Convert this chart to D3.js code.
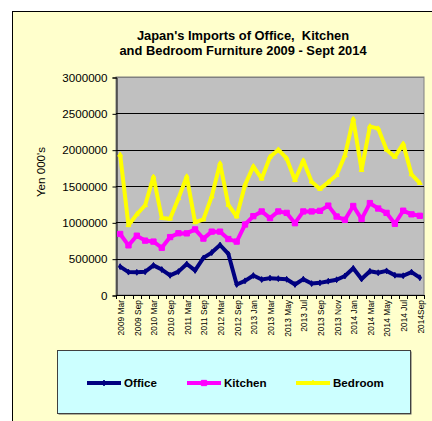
<!DOCTYPE html>
<html><head><meta charset="utf-8">
<script src="https://cdn.jsdelivr.net/npm/d3@7"></script>
<style>html,body{margin:0;padding:0;background:#fff;overflow:hidden}svg{display:block}</style>
</head><body>
<script>
const categories = ["2009 Mar","2009 Jun","2009 Sep","2009 Dec","2010 Mar","2010 Jun","2010 Sep","2010 Dec",
 "2011 Mar","2011 Jun","2011 Sep","2011 Dec","2012 Mar","2012 Jun","2012 Sep","2012 Dec",
 "2013 Jan","2013 Feb","2013 Mar","2013 Apr","2013 May","2013 Jun","2013 Jul","2013 Aug","2013 Sep","2013 Oct","2013 Nov","2013 Dec",
 "2014 Jan","2014 Feb","2014 Mar","2014 Apr","2014 May","2014 Jun","2014 Jul","2014 Aug","2014Sep"];
const office = [390000,315000,312000,320000,408000,350000,270000,322000,427000,338000,510000,584000,688000,565000,145000,195000,
 268000,213000,232000,225000,216000,145000,218000,157000,167000,190000,210000,262000,368000,220000,326000,306000,332000,272000,265000,315000,238000];
const kitchen = [840000,683000,816000,748000,735000,650000,797000,850000,848000,903000,776000,872000,872000,770000,735000,970000,
 1085000,1150000,1058000,1150000,1130000,988000,1150000,1150000,1158000,1230000,1080000,1035000,1225000,1045000,1265000,1190000,1130000,980000,1160000,1110000,1090000];
const bedroom = [1930000,960000,1110000,1235000,1625000,1060000,1050000,1330000,1630000,1000000,1040000,1355000,1810000,1240000,1080000,1515000,
 1770000,1600000,1900000,2000000,1880000,1580000,1850000,1560000,1460000,1550000,1650000,1920000,2420000,1720000,2320000,2290000,2000000,1900000,2080000,1660000,1540000];
const yTicks = [0,500000,1000000,1500000,2000000,2500000,3000000];
const seriesNames = ["Office","Kitchen","Bedroom"];
const seriesColors = ["#000080","#FF00FF","#FFFF00"];
const titleLines = ["Japan's Imports of Office,  Kitchen","and Bedroom Furniture 2009 - Sept 2014"];
const yTitle = "Yen 000's";

const W = 432, H = 421;
const FONT = "'Liberation Sans', Arial, sans-serif";
const svg = d3.select("body").append("svg").attr("width", W).attr("height", H);

// chart area
svg.append("rect").attr("x", 12.5).attr("y", 11.5).attr("width", 440).attr("height", 440)
  .attr("fill", "#FFFFCC").attr("stroke", "#000").attr("stroke-width", 1);

const plot = {l:116, r:424, t:77, b:295};
const x = d3.scaleBand().domain(categories).range([plot.l, plot.r]).paddingInner(0).paddingOuter(0);
const y = d3.scaleLinear().domain([0, 3000000]).range([plot.b, plot.t]);
const cx = c => x(c) + x.bandwidth()/2;

// plot area
svg.append("rect").attr("x", plot.l).attr("y", plot.t).attr("width", plot.r-plot.l).attr("height", plot.b-plot.t)
  .attr("fill", "#C0C0C0").attr("stroke", "#808080").attr("stroke-width", 1);

// gridlines
svg.append("g").selectAll("line").data(yTicks.filter(d => d > 0)).join("line")
  .attr("x1", plot.l).attr("x2", plot.r)
  .attr("y1", d => Math.round(y(d)) + 0.5).attr("y2", d => Math.round(y(d)) + 0.5)
  .attr("stroke", d => d === 3000000 ? "#808080" : "#000").attr("stroke-width", 1);

// y axis
const yAxis = d3.axisLeft(y).tickValues(yTicks).tickSize(4).tickPadding(5).tickFormat(d3.format("d"));
const gy = svg.append("g").attr("transform", `translate(${plot.l + 0.5},0.5)`).call(yAxis);
gy.select(".domain").attr("stroke", "#000");
gy.selectAll(".tick line").attr("stroke", "#000");
gy.selectAll(".tick text").attr("font-family", FONT).attr("font-size", "11.6px").attr("fill", "#000");

// x axis
svg.append("line").attr("x1", plot.l).attr("x2", plot.r).attr("y1", plot.b + 0.5).attr("y2", plot.b + 0.5).attr("stroke", "#000");
const bounds = categories.map(c => x(c)).concat([x.range()[1]]);
svg.append("g").selectAll("line").data(bounds).join("line")
  .attr("x1", d => Math.round(d) + 0.5).attr("x2", d => Math.round(d) + 0.5)
  .attr("y1", plot.b).attr("y2", plot.b + 4).attr("stroke", "#000");
svg.append("g").selectAll("text").data(categories.filter((c, i) => i % 2 === 0)).join("text")
  .attr("transform", c => `translate(${cx(c) + 1},${plot.b + 5}) rotate(-90)`)
  .attr("text-anchor", "end").attr("dy", "0.35em")
  .attr("font-family", FONT).attr("font-size", "8.4px").attr("fill", "#000")
  .text(c => c);

// y title
svg.append("text").attr("transform", `translate(45,172) rotate(-90)`)
  .attr("text-anchor", "middle").attr("font-family", FONT).attr("font-size", "11.6px").attr("fill", "#000")
  .text(yTitle);

// title
svg.append("g").selectAll("text").data(titleLines).join("text")
  .attr("x", 243).attr("y", (d, i) => 40 + i * 15.3)
  .attr("text-anchor", "middle").attr("font-family", FONT).attr("font-weight", "bold")
  .attr("font-size", "12.9px").attr("fill", "#000").style("white-space", "pre")
  .text(d => d);

// series
const allSeries = [office, kitchen, bedroom];
const markerShapes = [d3.symbolDiamond, d3.symbolSquare, d3.symbolTriangle];
const markerSizes = [10, 28, 10];
const line = d3.line().x((d, i) => cx(categories[i])).y(d => y(d)).curve(d3.curveLinear);
allSeries.forEach((vals, si) => {
  const g = svg.append("g");
  g.append("path").datum(vals).attr("d", line).attr("fill", "none")
    .attr("stroke", seriesColors[si]).attr("stroke-width", 4).attr("stroke-linejoin", "round");
  g.selectAll("path.m").data(vals).join("path").attr("class", "m")
    .attr("transform", (d, i) => `translate(${cx(categories[i])},${y(d)})`)
    .attr("d", d3.symbol().type(markerShapes[si]).size(markerSizes[si]))
    .attr("fill", seriesColors[si]).attr("stroke", seriesColors[si]).attr("stroke-width", 1);
});

// legend
const lg = svg.append("g");
lg.append("rect").attr("x", 58.5).attr("y", 351.5).attr("width", 353).attr("height", 63).attr("fill", "#606060");
lg.append("rect").attr("x", 57.5).attr("y", 350.5).attr("width", 353).attr("height", 63)
  .attr("fill", "#CCFFFF").attr("stroke", "#404040").attr("stroke-width", 1);
const legX = [87, 187, 296];
const legY = 383;
seriesNames.forEach((name, i) => {
  lg.append("line").attr("x1", legX[i]).attr("x2", legX[i] + 34).attr("y1", legY).attr("y2", legY)
    .attr("stroke", seriesColors[i]).attr("stroke-width", 4);
  lg.append("path").attr("transform", `translate(${legX[i] + 17},${legY})`)
    .attr("d", d3.symbol().type(markerShapes[i]).size(markerSizes[i]))
    .attr("fill", seriesColors[i]).attr("stroke", seriesColors[i]).attr("stroke-width", 1);
  lg.append("text").attr("x", legX[i] + 37).attr("y", legY).attr("dy", "0.35em")
    .attr("font-family", FONT).attr("font-weight", "bold").attr("font-size", "11.6px").attr("fill", "#000")
    .text(name);
});
</script>
</body></html>
